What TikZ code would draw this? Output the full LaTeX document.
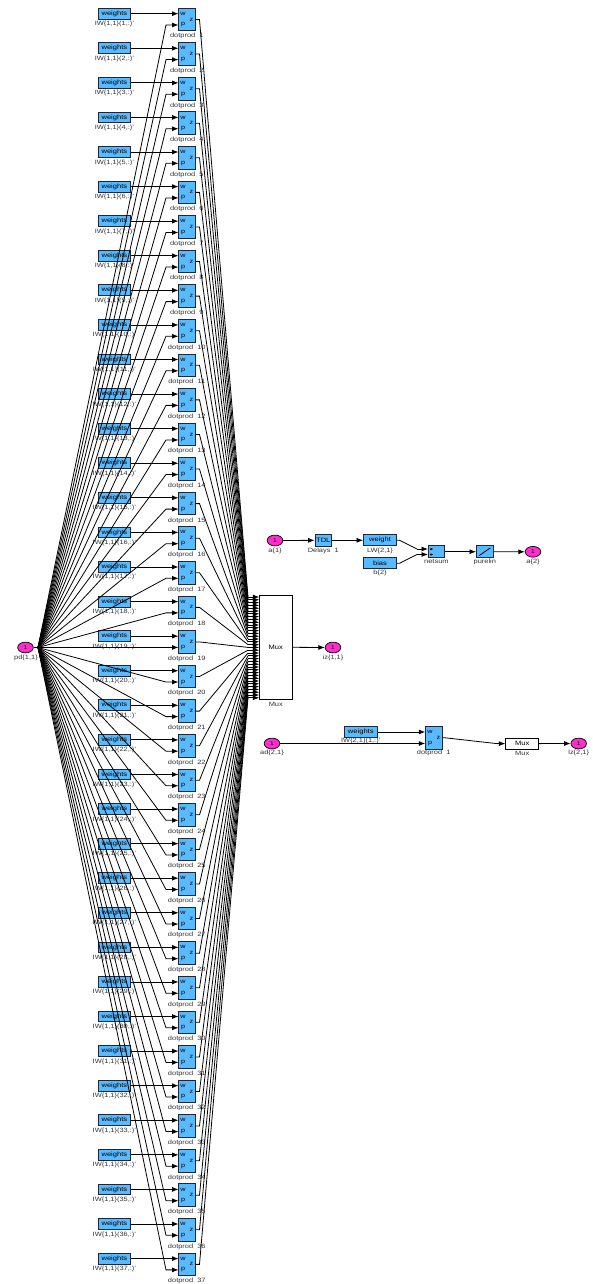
\documentclass[tikz,border=0pt]{standalone}
\usepackage{fontspec}
\setmainfont[FakeStretch=1.2]{Liberation Sans}
\usetikzlibrary{arrows.meta,shapes.geometric}
\definecolor{bloc}{RGB}{88,186,255}
\definecolor{port}{RGB}{255,45,205}
\definecolor{trait}{RGB}{25,40,60}
\tikzset{
  bloc/.style={draw=trait,fill=bloc,line width=0.9pt,inner sep=0pt,font=\fontsize{6.3}{7}\selectfont},
  poids/.style={bloc,minimum width=32pt,minimum height=10.8pt},
  produit/.style={bloc,minimum width=16.6pt,minimum height=22.6pt},
  petit/.style={bloc,minimum width=16.6pt,minimum height=11.6pt},
  blanc/.style={draw=black,fill=white,line width=0.8pt,inner sep=0pt,font=\fontsize{6.3}{7}\selectfont},
  port/.style={draw=black,fill=port,ellipse,line width=0.7pt,minimum width=15.6pt,minimum height=10.8pt,inner sep=0pt,font=\fontsize{5.5}{6}\selectfont},
  legende/.style={inner sep=0pt,text=black!80,font=\fontsize{6.2}{7}\selectfont},
  lettre/.style={inner sep=0pt,font=\fontsize{6}{7}\selectfont},
  fil/.style={draw=black,line width=0.8pt},
  fleche/.style={fil,-{Latex[length=6.5pt,width=5pt]}},
  pointe/.style={fil,-{Latex[length=3pt,width=2.6pt]}}
}
\begin{document}
\begin{tikzpicture}[x=1pt,y=-1pt]
\useasboundingbox (0,0) rectangle (592,1284);

% reseau de gauche
\node[port] (pd) at (25.5,647.5) {1};
\node[legende] (pdlab) at (26,658) {pd\{1,1\}};
\coordinate (fan) at (38,647.5);
\node[blanc,minimum width=33pt,minimum height=104pt] (mux) at (275.8,647.3) {Mux};
\node[legende] (muxlab) at (275.8,704.5) {Mux};
\node[port] (iz) at (333,647.5) {1};
\node[legende] (izlab) at (333,658) {iz\{1,1\}};

\foreach \i in {1,...,37}{
  \pgfmathsetmacro{\rowy}{19.5+(\i-1)*34.58}
  \pgfmathsetmacro{\wy}{\rowy-5.8}
  \pgfmathsetmacro{\py}{\rowy+5.5}
  \pgfmathsetmacro{\my}{597+(\i-1)*2.8}
  \node[poids] (w\i) at (114.4,\wy) {weights};
  \node[legende] (wlab\i) at (114.4,\rowy+4.6) {IW\{1,1\}(\i,:)'};
  \node[produit] (d\i) at (186.8,\rowy) {};
  \node[lettre] (dw\i) at (183,\wy) {w};
  \node[lettre] (dp\i) at (183,\py) {p};
  \node[lettre] (dz\i) at (191.5,\rowy) {z};
  \node[legende] (dlab\i) at (186.8,\rowy+16.8) {dotprod\ \ \i};
  \coordinate (inw\i) at (178.5,\wy);
  \coordinate (inp\i) at (178.5,\py);
  \coordinate (kp\i) at (166,\py);
  \coordinate (kz\i) at (199.5,\rowy);
  \coordinate (km\i) at (248,\my);
  \coordinate (inm\i) at (259.3,\my);
}
% les fils passent sur les blocs
\foreach \i in {1,...,37}{
  \draw[fleche] (w\i.east) -- (inw\i);
  \draw[fleche] (fan) -- (kp\i) -- (inp\i);
  \draw[fil] (d\i.east) -- (kz\i) -- (km\i);
  \draw[fleche] (km\i) -- (inm\i);
}
\draw[fil] (pd.east) -- (fan);
\draw[fleche] (mux.east) -- (iz.west);

% couche du haut
\node[port] (a1) at (275,540.5) {1};
\node[legende] (a1lab) at (275,551) {a\{1\}};
\node[petit] (tdl) at (323.3,540.3) {TDL};
\node[legende] (tdllab) at (323.3,551) {Delays\ \ 1};
\node[poids,minimum width=33pt] (lw) at (380,540.3) {weight};
\node[legende] (lwlab) at (380,551) {LW\{2,1\}};
\node[poids,minimum width=33pt] (bias) at (380,563.3) {bias};
\node[legende] (biaslab) at (380,572.8) {b\{2\}};
\node[petit] (netsum) at (436.4,551.7) {};
\coordinate (plusa) at (430,549);
\coordinate (plusb) at (430,554.5);
\coordinate (plusc) at (433.5,549);
\coordinate (plusd) at (433.5,554.5);
\draw[pointe] (plusa) -- (plusc);
\draw[pointe] (plusb) -- (plusd);
\node[legende] (netsumlab) at (436.4,562) {netsum};
\node[petit] (purelin) at (484.8,551.7) {};
\node[legende] (purelinlab) at (484.8,562) {purelin};
\node[port] (a2) at (533,551.8) {1};
\node[legende] (a2lab) at (533,562) {a\{2\}};
\coordinate (inna) at (428,549);
\coordinate (innb) at (428,554.5);
\coordinate (kna) at (417,549);
\coordinate (knb) at (417,554.5);
\coordinate (kla) at (399.5,540.3);
\coordinate (klb) at (399.5,563.3);
\draw[fleche] (a1) -- (tdl);
\draw[fleche] (tdl) -- (lw);
\draw[fil] (lw.east) -- (kla) -- (kna);
\draw[fleche] (kna) -- (inna);
\draw[fil] (bias.east) -- (klb) -- (knb);
\draw[fleche] (knb) -- (innb);
\draw[fleche] (netsum) -- (purelin);
\draw[fleche] (purelin) -- (a2);
\coordinate (gla) at ([shift={(-5.5,3.8)}]purelin.center);
\coordinate (glb) at ([shift={(5.5,-3.8)}]purelin.center);
\draw[line width=0.8pt] (gla) -- (glb);

% couche du bas
\node[port] (ad) at (272,743.5) {1};
\node[legende] (adlab) at (272,753.2) {ad\{2,1\}};
\node[poids,minimum width=33pt] (w2) at (360.8,732) {weights};
\node[legende] (w2lab) at (360.8,741.2) {IW\{2,1\}(1,:)'};
\node[produit] (dd) at (433.7,737.8) {};
\node[lettre] (ddw) at (430,732) {w};
\node[lettre] (ddp) at (430,743.5) {p};
\node[lettre] (ddz) at (438.3,737.8) {z};
\node[legende] (ddlab) at (433.7,753.2) {dotprod\ \ 1};
\node[blanc,minimum width=33pt,minimum height=11.3pt] (mux2) at (522.2,743.6) {Mux};
\node[legende] (mux2lab) at (522.2,753.2) {Mux};
\node[port] (lz) at (578.7,743.5) {1};
\node[legende] (lzlab) at (578.7,753.2) {lz\{2,1\}};
\coordinate (inwd) at (425.3,732);
\coordinate (inpd) at (425.3,743.5);
\coordinate (kzd) at (445,737.8);
\coordinate (kmd) at (497,743.6);
\draw[fleche] (w2.east) -- (inwd);
\draw[fleche] (ad.east) -- (inpd);
\draw[fil] (dd.east) -- (kzd) -- (kmd);
\draw[fleche] (kmd) -- (mux2.west);
\draw[fleche] (mux2.east) -- (lz.west);
\end{tikzpicture}
\end{document}
